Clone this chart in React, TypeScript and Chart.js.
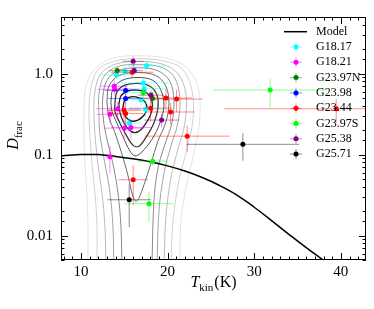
import React, { useEffect, useRef } from "react";
import { Chart, registerables } from "chart.js";
Chart.register(...registerables);

const FONT = "'Liberation Serif', 'DejaVu Serif', serif";

const xMin = 7.7;
const xMax = 42.9;
const yMin = 0.005;
const yMax = 5;
const xTickLabels = [10, 20, 30, 40];
const yTickValues = [0.01, 0.1, 1];
const yTickLabels = ["0.01", "0.1", "1.0"];

const modelT = [7.7, 9, 10, 11, 12, 14, 16, 18, 20, 22, 24, 26, 28, 30, 32, 34, 36, 38, 40];
const modelD = [0.097, 0.099, 0.1, 0.1005, 0.1, 0.0951, 0.0889, 0.0815, 0.0726, 0.0627, 0.0521, 0.0416, 0.0317, 0.0224, 0.01535, 0.01038, 0.0071, 0.00497, 0.00352];

const seriesNames = ["G18.17", "G18.21", "G23.97N", "G23.98", "G23.44", "G23.97S", "G25.38", "G25.71"];
const seriesColors = ["#00ffff", "#ff00ff", "#008000", "#0000ff", "#ff0000", "#00ff00", "#800080", "#000000"];

const g1817T = [17.58, 15.08, 14.12, 17.19, 17.3, 16.92, 17.47, 15.57];
const g1817D = [1.25, 1.06, 0.965, 0.766, 0.649, 0.476, 0.361, 0.244];
const g1817TErr = [2.2, 1.5, 1.8, 3.0, 2.5, 2.0, 2.0, 1.5];
const g1817DErr = [0.15, 0.15, 0.12, 0.12, 0.1, 0.08, 0.07, 0.05];

const g1821T = [13.84, 13.92, 14.23, 13.35, 15.0, 15.77, 13.35];
const g1821D = [0.7, 0.639, 0.368, 0.315, 0.212, 0.216, 0.094];
const g1821TErr = [1.5, 2.0, 2.5, 1.5, 2.3, 2.3, 0.6];
const g1821DErr = [0.12, 0.1, 0.08, 0.07, 0.05, 0.06, 0.035];

const g2397NT = [14.19, 18.27];
const g2397ND = [1.09, 0.493];
const g2397NTErr = [1.0, 1.5];
const g2397NDErr = [0.1, 0.1];

const g2398T = [15.16, 15.16];
const g2398D = [0.621, 0.493];
const g2398TErr = [2.4, 2.0];
const g2398DErr = [0.08, 0.07];

const g2344T = [15.92, 19.81, 21.04, 18.04, 14.96, 15.16, 20.35, 22.26, 39.46, 16.03];
const g2344D = [1.04, 0.499, 0.485, 0.374, 0.352, 0.321, 0.336, 0.169, 0.368, 0.0489];
const g2344TErr = [2.5, 3.0, 3.0, 2.5, 2.0, 2.0, 2.8, 4.9, 12.9, 1.7];
const g2344DErr = [0.15, 0.15, 0.15, 0.12, 0.1, 0.1, 0.1, 0.06, 0.12, 0.025];

const g2397ST = [17.19, 31.84, 18.27, 17.85];
const g2397SD = [0.582, 0.626, 0.083, 0.0248];
const g2397STErr = [1.5, 6.6, 1.7, 2.8];
const g2397SDErr = [0.08, 0.25, 0.01, 0.01];

const g2538T = [16.03, 16.15, 18.08, 19.31];
const g2538D = [1.42, 1.09, 0.542, 0.267];
const g2538TErr = [1.2, 1.0, 1.5, 2.0];
const g2538DErr = [0.2, 0.1, 0.08, 0.05];

const g2571T = [28.69, 15.57];
const g2571D = [0.134, 0.0277];
const g2571TErr = [6.5, 2.5];
const g2571DErr = [0.05, 0.015];

const seriesT = [g1817T, g1821T, g2397NT, g2398T, g2344T, g2397ST, g2538T, g2571T];
const seriesD = [g1817D, g1821D, g2397ND, g2398D, g2344D, g2397SD, g2538D, g2571D];
const seriesTErr = [g1817TErr, g1821TErr, g2397NTErr, g2398TErr, g2344TErr, g2397STErr, g2538TErr, g2571TErr];
const seriesDErr = [g1817DErr, g1821DErr, g2397NDErr, g2398DErr, g2344DErr, g2397SDErr, g2538DErr, g2571DErr];

// density contours, [T, D]
const contour1 = [[14.85, 0.392], [15.08, 0.476], [15.77, 0.517], [16.69, 0.503], [17.38, 0.45], [17.62, 0.371], [17.27, 0.306], [16.58, 0.267], [15.77, 0.26], [15.19, 0.29], [14.85, 0.342], [14.85, 0.392]];
const contour2 = [[14.38, 0.415], [14.62, 0.531], [15.42, 0.609], [16.58, 0.626], [17.62, 0.577], [18.19, 0.463], [18.19, 0.352], [17.73, 0.267], [16.92, 0.203], [16.23, 0.187], [15.54, 0.203], [14.85, 0.26], [14.5, 0.333], [14.38, 0.415]];
const contour3 = [[13.92, 0.426], [14.15, 0.593], [15.08, 0.719], [16.58, 0.759], [17.96, 0.699], [18.77, 0.546], [18.88, 0.371], [18.42, 0.246], [17.5, 0.163], [16.69, 0.127], [16.0, 0.131], [15.19, 0.177], [14.38, 0.26], [13.92, 0.342], [13.92, 0.426]];
const contour4 = [[13.46, 0.438], [13.69, 0.644], [14.73, 0.825], [16.58, 0.896], [18.31, 0.825], [19.23, 0.626], [19.58, 0.403], [19.12, 0.246], [18.19, 0.154], [16.92, 0.105], [16.23, 0.0964], [15.65, 0.111], [14.85, 0.167], [14.04, 0.26], [13.58, 0.342], [13.46, 0.438]];
const contour5 = [[13.0, 0.45], [13.23, 0.699], [14.38, 0.946], [16.58, 1.028], [18.65, 0.946], [19.81, 0.699], [20.15, 0.426], [19.81, 0.253], [18.88, 0.146], [18.08, 0.0774], [17.27, 0.0423], [16.69, 0.0288], [16.35, 0.0265], [16.0, 0.0304], [15.42, 0.0557], [14.73, 0.102], [13.92, 0.187], [13.23, 0.29], [13.0, 0.45]];
const contour6 = [[14.73, 0.004], [14.62, 0.013], [14.27, 0.0339], [13.69, 0.0774], [12.88, 0.177], [12.54, 0.306], [12.54, 0.531], [13.0, 0.825], [14.27, 1.086], [16.58, 1.18], [18.88, 1.086], [20.27, 0.802], [20.73, 0.463], [20.5, 0.246], [19.69, 0.134], [18.88, 0.0675], [18.42, 0.0258], [18.19, 0.004]];
const contour7 = [[13.81, 0.004], [13.69, 0.013], [13.35, 0.0339], [12.77, 0.0774], [12.19, 0.177], [12.08, 0.306], [12.08, 0.561], [12.65, 0.921], [14.15, 1.212], [16.58, 1.3], [19.12, 1.212], [20.73, 0.921], [21.42, 0.503], [21.19, 0.246], [20.38, 0.127], [19.58, 0.0588], [19.0, 0.0196], [18.77, 0.004]];
const contour8 = [[12.88, 0.004], [12.77, 0.013], [12.42, 0.0339], [11.96, 0.0774], [11.62, 0.177], [11.5, 0.324], [11.62, 0.609], [12.31, 1.0], [14.04, 1.317], [16.58, 1.41], [19.35, 1.317], [21.19, 1.0], [22.12, 0.561], [22.0, 0.246], [21.19, 0.117], [20.38, 0.0512], [19.81, 0.0171], [19.58, 0.004]];
const contour9 = [[11.85, 0.004], [11.85, 0.013], [11.62, 0.0339], [11.27, 0.0774], [11.04, 0.177], [10.92, 0.352], [11.15, 0.662], [11.96, 1.116], [13.92, 1.43], [16.58, 1.53], [19.58, 1.43], [21.65, 1.147], [22.81, 0.626], [22.92, 0.267], [22.23, 0.117], [21.31, 0.0472], [20.62, 0.0149], [20.38, 0.004]];
const contour10 = [[10.81, 0.004], [10.81, 0.013], [10.69, 0.0339], [10.46, 0.0774], [10.35, 0.177], [10.35, 0.352], [10.58, 0.699], [11.62, 1.147], [13.69, 1.553], [16.58, 1.66], [19.81, 1.553], [22.12, 1.212], [23.5, 0.699], [23.73, 0.29], [23.15, 0.117], [22.23, 0.0447], [21.54, 0.0149], [21.42, 0.004]];

const contours = [contour1, contour2, contour3, contour4, contour5, contour6, contour7, contour8, contour9, contour10];
const contourColors = ["#151515", "#262626", "#383838", "#505050", "#6a6a6a", "#8a8a8a", "#a4a4a4", "#bcbcbc", "#d0d0d0", "#e3e3e3"];

function rgba(hex: string, a: number) {
  const n = parseInt(hex.slice(1), 16);
  return `rgba(${(n >> 16) & 255},${(n >> 8) & 255},${n & 255},${a})`;
}

const decorPlugin = {
  id: "decor",
  beforeDatasetDraw(chart: any, args: any) {
    const ds = chart.data.datasets[args.index];
    if (!ds.xErr) return;
    const { ctx, chartArea } = chart;
    const xs = chart.scales.x;
    const ys = chart.scales.y;
    ctx.save();
    ctx.beginPath();
    ctx.rect(chartArea.left, chartArea.top, chartArea.right - chartArea.left, chartArea.bottom - chartArea.top);
    ctx.clip();
    ctx.strokeStyle = ds.errColor;
    ctx.lineWidth = 1;
    ds.data.forEach((p: any, i: number) => {
      const px = xs.getPixelForValue(p.x);
      const py = ys.getPixelForValue(p.y);
      const x1 = xs.getPixelForValue(p.x - ds.xErr[i]);
      const x2 = xs.getPixelForValue(p.x + ds.xErr[i]);
      const lo = Math.max(p.y - ds.yErr[i], 1e-6);
      const y1 = ys.getPixelForValue(lo);
      const y2 = ys.getPixelForValue(p.y + ds.yErr[i]);
      ctx.beginPath();
      ctx.moveTo(x1, py);
      ctx.lineTo(x2, py);
      ctx.moveTo(px, y1);
      ctx.lineTo(px, y2);
      ctx.stroke();
    });
    ctx.restore();
  },
  afterDraw(chart: any) {
    const { ctx, chartArea: A } = chart;
    const xs = chart.scales.x;
    const ys = chart.scales.y;
    ctx.save();
    // frame
    ctx.strokeStyle = "#000";
    ctx.lineWidth = 1;
    ctx.strokeRect(Math.round(A.left) + 0.5, Math.round(A.top) + 0.5, Math.round(A.right - A.left) - 1, Math.round(A.bottom - A.top) - 1);
    // x ticks (inward, top and bottom)
    ctx.beginPath();
    xs.ticks.forEach((t: any) => {
      const v = t.value;
      if (Math.abs(v - Math.round(v)) > 1e-6 || v < xMin || v > xMax) return;
      const px = Math.round(xs.getPixelForValue(v)) + 0.5;
      const len = Math.round(v) % 10 === 0 ? 7 : 3.5;
      ctx.moveTo(px, A.bottom);
      ctx.lineTo(px, A.bottom - len);
      ctx.moveTo(px, A.top);
      ctx.lineTo(px, A.top + len);
    });
    // y ticks (inward, left and right)
    ys.ticks.forEach((t: any) => {
      const v = t.value;
      if (v < yMin * 0.999 || v > yMax * 1.001) return;
      const l = Math.log10(v);
      const major = Math.abs(l - Math.round(l)) < 1e-6;
      const len = major ? 7 : 3.5;
      const py = Math.round(ys.getPixelForValue(v)) + 0.5;
      ctx.moveTo(A.left, py);
      ctx.lineTo(A.left + len, py);
      ctx.moveTo(A.right, py);
      ctx.lineTo(A.right - len, py);
    });
    ctx.stroke();

    // legend
    const legendRows: any[] = [];
    chart.data.datasets.forEach((ds: any) => {
      if (ds.isModel) legendRows.unshift(ds);
      else if (ds.xErr) legendRows.push(ds);
    });
    const lineX = A.right - 82;
    const markX = A.right - 70;
    const textX = A.right - 50;
    ctx.font = `12px ${FONT}`;
    ctx.textBaseline = "middle";
    ctx.textAlign = "left";
    legendRows.forEach((ds: any, r: number) => {
      const y = A.top + 14.7 + r * 15.3;
      if (ds.isModel) {
        ctx.strokeStyle = "#000";
        ctx.lineWidth = 1.5;
        ctx.beginPath();
        ctx.moveTo(lineX, y);
        ctx.lineTo(lineX + 23, y);
        ctx.stroke();
      } else {
        ctx.strokeStyle = ds.errColor;
        ctx.lineWidth = 1;
        ctx.beginPath();
        ctx.moveTo(markX - 6, y);
        ctx.lineTo(markX + 6, y);
        ctx.moveTo(markX, y - 5);
        ctx.lineTo(markX, y + 5);
        ctx.stroke();
        ctx.fillStyle = ds.backgroundColor;
        ctx.beginPath();
        ctx.arc(markX, y, 2.5, 0, Math.PI * 2);
        ctx.fill();
      }
      ctx.fillStyle = "#000";
      ctx.fillText(ds.label, textX, y);
    });

    // axis titles with subscripts
    ctx.fillStyle = "#000";
    ctx.textBaseline = "alphabetic";
    const mainFont = `16px ${FONT}`;
    const italFont = `italic 16px ${FONT}`;
    const subFont = `11px ${FONT}`;
    // x title: T_kin(K)
    ctx.font = italFont;
    const wT = ctx.measureText("T").width;
    ctx.font = subFont;
    const wk = ctx.measureText("kin").width;
    ctx.font = mainFont;
    const wK = ctx.measureText("(K)").width;
    const totX = wT + wk + 1 + wK;
    let sx = (A.left + A.right) / 2 - totX / 2;
    const by = 287;
    ctx.font = italFont;
    ctx.fillText("T", sx, by);
    sx += wT;
    ctx.font = subFont;
    ctx.fillText("kin", sx, by + 3.5);
    sx += wk + 1;
    ctx.font = mainFont;
    ctx.fillText("(K)", sx, by);
    // y title: D_frac
    ctx.font = italFont;
    const wD = ctx.measureText("D").width;
    ctx.font = subFont;
    const wf = ctx.measureText("frac").width;
    const totY = wD + wf;
    ctx.save();
    ctx.translate(18, (A.top + A.bottom) / 2 - 3);
    ctx.rotate(-Math.PI / 2);
    ctx.font = italFont;
    ctx.fillText("D", -totY / 2, 0);
    ctx.font = subFont;
    ctx.fillText("frac", -totY / 2 + wD, 3.5);
    ctx.restore();
    ctx.restore();
  },
};

export default function App() {
  const ref = useRef<HTMLCanvasElement>(null);
  useEffect(() => {
    const canvas = ref.current!;
    const datasets: any[] = [];
    seriesNames.forEach((name, i) => {
      datasets.push({
        label: name,
        data: seriesT[i].map((t, j) => ({ x: t, y: seriesD[i][j] })),
        xErr: seriesTErr[i],
        yErr: seriesDErr[i],
        errColor: rgba(seriesColors[i], 0.45),
        backgroundColor: seriesColors[i],
        borderColor: seriesColors[i],
        pointRadius: 2.5,
        pointBorderWidth: 0,
        showLine: false,
        order: 10 - i,
      });
    });
    datasets.push({
      label: "Model",
      isModel: true,
      data: modelT.map((t, j) => ({ x: t, y: modelD[j] })),
      showLine: true,
      pointRadius: 0,
      borderColor: "#000",
      borderWidth: 1.5,
      tension: 0.4,
      order: 20,
    });
    contours.forEach((c, i) => {
      datasets.push({
        label: "",
        data: c.map(([x, y]) => ({ x, y })),
        showLine: true,
        pointRadius: 0,
        borderColor: contourColors[i],
        borderWidth: i < 3 ? 1.3 : 1,
        tension: 0.35,
        order: 30 + i,
      });
    });
    const chart = new Chart(canvas, {
      type: "scatter",
      data: { datasets },
      options: {
        animation: false,
        responsive: false,
        devicePixelRatio: 1,
        events: [],
        layout: { padding: { top: 8, right: 8, left: 0, bottom: 0 } },
        plugins: { legend: { display: false }, tooltip: { enabled: false } },
        scales: {
          x: {
            type: "linear",
            min: xMin,
            max: xMax,
            grid: { display: false, drawTicks: false },
            border: { display: false },
            ticks: {
              stepSize: 1,
              autoSkip: false,
              includeBounds: false,
              maxRotation: 0,
              padding: 3,
              color: "#000",
              font: { family: FONT, size: 15 },
              callback: (v: any) => {
                const r = Math.round(v);
                return Math.abs(v - r) < 1e-6 && xTickLabels.includes(r) ? String(r) : "";
              },
            },
            afterFit: (s: any) => {
              s.height = 49;
            },
          },
          y: {
            type: "logarithmic",
            min: yMin,
            max: yMax,
            grid: { display: false, drawTicks: false },
            border: { display: false },
            ticks: {
              autoSkip: false,
              padding: 8,
              color: "#000",
              font: { family: FONT, size: 15 },
              callback: (v: any) => {
                const k = yTickValues.findIndex((t) => Math.abs(Math.log10(v) - Math.log10(t)) < 1e-6);
                return k >= 0 ? yTickLabels[k] : "";
              },
            },
            afterFit: (s: any) => {
              s.width = 61;
            },
          },
        },
      } as any,
      plugins: [decorPlugin as any],
    });
    return () => chart.destroy();
  }, []);
  return (
    <div style={{ position: "fixed", left: 0, top: 0, width: 374, height: 309, background: "#fff" }}>
      <canvas ref={ref} width={374} height={309} style={{ display: "block" }} />
    </div>
  );
}
